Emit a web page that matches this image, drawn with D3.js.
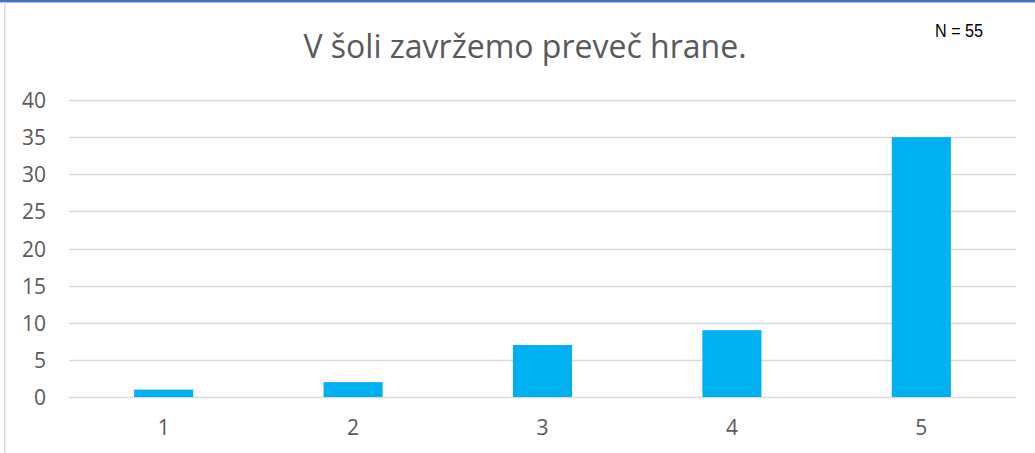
<!DOCTYPE html>
<html>
<head>
<meta charset="utf-8">
<script src="https://cdn.jsdelivr.net/npm/d3@7"></script>
<style>
  body { margin: 0; background: #fff; }
  svg { display: block; }
</style>
</head>
<body>
<div id="chart"></div>
<script>
// chart data
const categories = ['1', '2', '3', '4', '5'];
const counts = [1, 2, 7, 9, 35];
const yTicks = [0, 5, 10, 15, 20, 25, 30, 35, 40];
const title = 'V šoli zavržemo preveč hrane.';
const note = 'N = 55';

const width = 1035, height = 453;
const margin = { top: 100, right: 19, bottom: 56, left: 69 };

const svg = d3.select('#chart').append('svg')
  .attr('width', width)
  .attr('height', height);

// frame: blue top edge, grey left edge
svg.append('rect').attr('x', 0).attr('y', 0).attr('width', width).attr('height', 2.5).attr('fill', '#4472c4');
svg.append('rect').attr('x', 4).attr('y', 2).attr('width', 1.5).attr('height', height).attr('fill', '#d9d9d9');

const x = d3.scaleBand()
  .domain(categories)
  .range([margin.left, width - margin.right])
  .padding(0);

const y = d3.scaleLinear()
  .domain([0, 40])
  .range([height - margin.bottom, margin.top]);

// gridlines
svg.append('g')
  .selectAll('line')
  .data(yTicks)
  .enter()
  .append('line')
  .attr('x1', margin.left)
  .attr('x2', width - margin.right)
  .attr('y1', d => Math.round(y(d)) + 0.5)
  .attr('y2', d => Math.round(y(d)) + 0.5)
  .attr('stroke', '#d9d9d9')
  .attr('stroke-width', 1.5);

// y axis labels
const yAxis = svg.append('g')
  .attr('transform', `translate(${margin.left - 23},0)`)
  .call(d3.axisLeft(y).tickValues(yTicks).tickSize(0).tickPadding(0));
yAxis.select('.domain').remove();
yAxis.selectAll('text').attr('dy', '0.36em');

// x axis labels
const xAxis = svg.append('g')
  .attr('transform', `translate(0,${height - margin.bottom})`)
  .call(d3.axisBottom(x).tickSize(0).tickPadding(23));
xAxis.select('.domain').remove();

svg.selectAll('.tick text')
  .attr('fill', '#595959')
  .style('font-family', '"Open Sans", "Noto Sans", sans-serif')
  .style('font-size', '21px');

// bars
const barW = x.bandwidth() * 0.312;
svg.append('g')
  .selectAll('rect')
  .data(counts)
  .enter()
  .append('rect')
  .attr('x', (d, i) => x(categories[i]) + (x.bandwidth() - barW) / 2)
  .attr('y', d => y(d))
  .attr('width', barW)
  .attr('height', d => y(0) - y(d))
  .attr('fill', '#00b0f0');

// title
svg.append('text')
  .attr('x', 525)
  .attr('y', 58)
  .attr('text-anchor', 'middle')
  .attr('fill', '#595959')
  .style('font-family', '"Open Sans", "Noto Sans", sans-serif')
  .style('font-size', '32px')
  .text(title);

// sample size note (narrow face, squeezed horizontally)
svg.append('text')
  .attr('transform', 'translate(959,37) scale(0.85,1)')
  .attr('text-anchor', 'middle')
  .attr('fill', '#000')
  .style('font-family', '"Liberation Sans", Arial, sans-serif')
  .style('font-size', '19px')
  .text(note);
</script>
</body>
</html>
